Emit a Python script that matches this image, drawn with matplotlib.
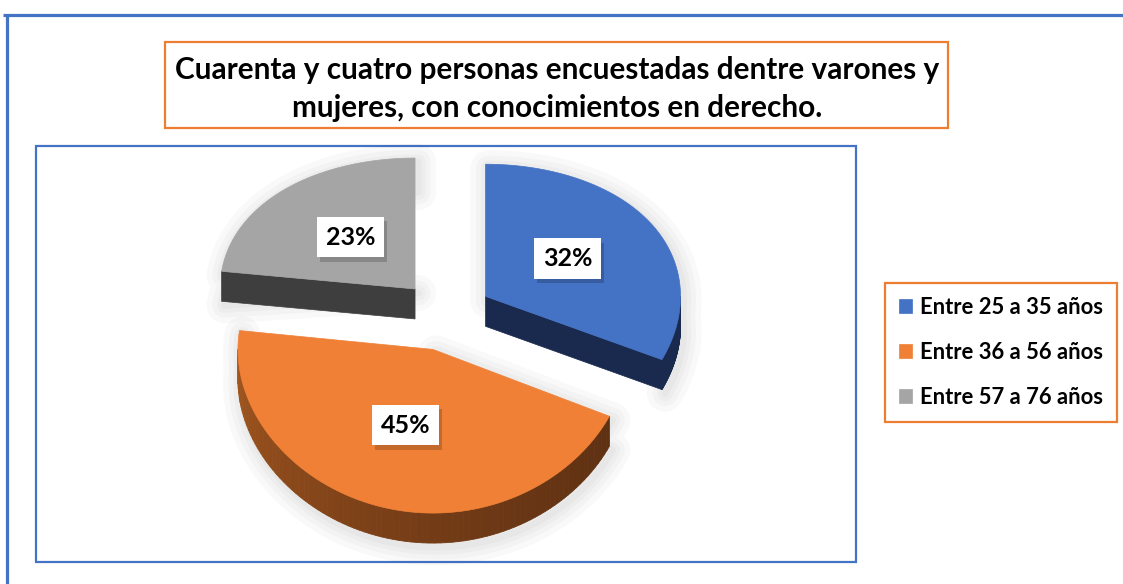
import numpy as np
import matplotlib.pyplot as plt
from matplotlib.patches import Rectangle
import matplotlib.colors as mcolors
import matplotlib.patheffects as pe

plt.rcParams['font.family'] = ['Lato', 'DejaVu Sans']

titulo = 'Cuarenta y cuatro personas encuestadas dentre varones y\nmujeres, con conocimientos en derecho.'
etiquetas = ['Entre 25 a 35 años', 'Entre 36 a 56 años', 'Entre 57 a 76 años']
porcentajes = [32, 45, 23]

color_sup = ['#4472C4', '#F08035', '#A5A5A5']
lado_claro = ['#1F3260', '#A4571F', '#474747']
lado_osc = ['#1A2A4E', '#5C2F12', '#3E3E3E']
azul = '#4472C4'
naranja = '#ED7D31'

fig = plt.figure(figsize=(11.23, 5.84), dpi=100)
ax = fig.add_axes([0, 0, 1, 1])
ax.set_xlim(0, 1123)
ax.set_ylim(584, 0)
ax.axis('off')

# marcos
ax.plot([7, 7], [14, 584], color=azul, lw=2.3, solid_capstyle='butt')
ax.plot([3, 1123], [14.5, 14.5], color=azul, lw=2.3, solid_capstyle='butt')
ax.add_patch(Rectangle((36, 146), 820, 416, fill=False, ec=azul, lw=1.6))
ax.add_patch(Rectangle((165, 42), 783, 86, fill=False, ec=naranja, lw=1.6))
ax.text(557, 89, titulo, ha='center', va='center', fontsize=21.4,
        fontweight='bold', linespacing=1.42)

# pastel 3D (perspectiva simple)
cx, cy = 446, 315
rx = 195
ay, by = 146.7, 11.6
prof = 30
expl = 0.24


def proy(u, v):
    return cx + rx * u, cy + ay * v + by * v ** 2


fr = np.array(porcentajes) / sum(porcentajes)
lims = np.concatenate([[0], np.cumsum(fr)]) * 2 * np.pi

for i in [2, 0, 1]:
    t0, t1 = lims[i], lims[i + 1]
    tm = (t0 + t1) / 2
    du, dv = expl * np.sin(tm), -expl * np.cos(tm)
    th = np.linspace(t0, t1, 120)
    xs, ys = proy(du + np.sin(th), dv - np.cos(th))
    x0, y0 = proy(du, dv)

    # sombra suave
    sx = np.concatenate([[x0], xs, xs[::-1]])
    sy = np.concatenate([[y0], ys, ys[::-1] + prof])
    for lw in [26, 18, 11, 5]:
        ax.fill(sx + 3, sy + 4, fc='none', ec='black', lw=lw, alpha=0.025,
                joinstyle='round')

    # caras radiales visibles
    for t, ok in [(t0, np.sin(t0) < -1e-6), (t1, np.sin(t1) > 1e-6)]:
        if ok:
            xe, ye = proy(du + np.sin(t), dv - np.cos(t))
            ax.fill([x0, xe, xe, x0], [y0, ye, ye + prof, y0 + prof],
                    fc=lado_osc[i], ec=lado_osc[i], lw=0.5)

    # borde exterior frontal
    a0, a1 = max(t0, np.pi / 2), min(t1, 3 * np.pi / 2)
    if a1 > a0:
        ang = np.linspace(a0, a1, 90)
        bx, byy = proy(du + np.sin(ang), dv - np.cos(ang))
        c1 = np.array(mcolors.to_rgb(lado_osc[i]))
        c2 = np.array(mcolors.to_rgb(lado_claro[i]))
        for k in range(len(ang) - 1):
            w = ((ang[k] - np.pi / 2) / np.pi) ** 1.6
            c = c1 + (c2 - c1) * w
            ax.fill([bx[k], bx[k + 1], bx[k + 1], bx[k]],
                    [byy[k], byy[k + 1], byy[k + 1] + prof, byy[k] + prof],
                    fc=c, ec=c, lw=0.6)

    # cara superior
    ax.fill(np.concatenate([[x0], xs]), np.concatenate([[y0], ys]),
            fc=color_sup[i], ec=color_sup[i], lw=0.5, label=etiquetas[i])

    # etiqueta
    lx, ly = proy(du + 0.5 * np.sin(tm), dv - 0.5 * np.cos(tm))
    txt = ax.text(lx, ly, f'{porcentajes[i]}%', fontsize=18, fontweight='bold',
                  ha='center', va='center',
                  bbox=dict(boxstyle='square,pad=0.35', fc='white', ec='none'))
    txt.get_bbox_patch().set_path_effects(
        [pe.withSimplePatchShadow(offset=(2, -3), shadow_rgbFace='black', alpha=0.18)])

h, l = ax.get_legend_handles_labels()
orden = [l.index(e) for e in etiquetas]
leg = ax.legend([h[k] for k in orden], [l[k] for k in orden],
                loc='center', bbox_to_anchor=(1001, 352.5),
                bbox_transform=ax.transData,
                prop={'weight': 'bold', 'size': 15.8},
                handlelength=0.6, handleheight=0.6, handletextpad=0.35,
                labelspacing=1.1, borderpad=0.62, fancybox=False,
                framealpha=1, borderaxespad=0)
leg.get_frame().set_edgecolor(naranja)
leg.get_frame().set_linewidth(1.6)

fig.savefig('out.png', dpi=100)
